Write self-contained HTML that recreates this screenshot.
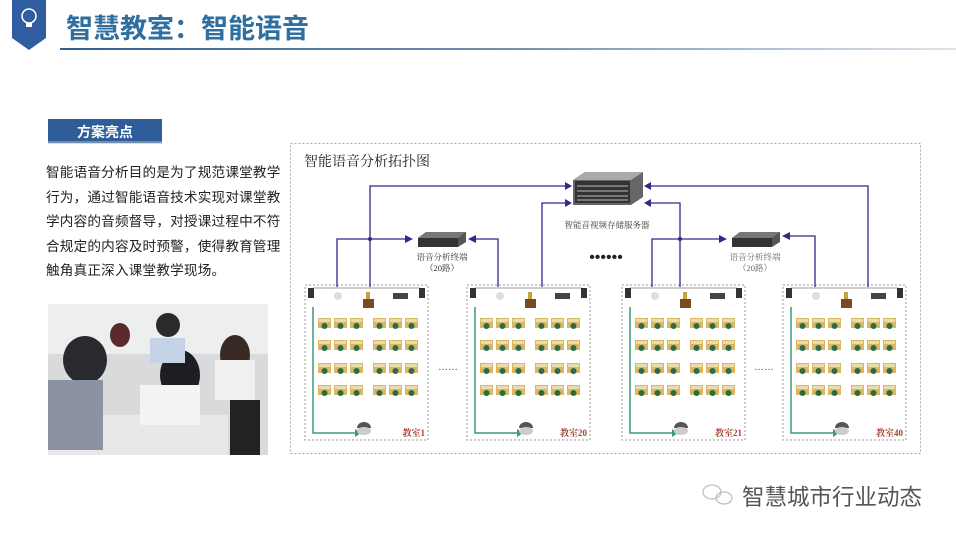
<!DOCTYPE html>
<html><head><meta charset="utf-8"><style>
body{margin:0;width:956px;height:538px;background:#fff;overflow:hidden;position:relative;font-family:"Liberation Sans","Noto Sans CJK SC",sans-serif}
.t{position:absolute;left:46px;top:161px;font-size:13.6px;line-height:24.5px;color:#222;letter-spacing:0.2px}
</style></head><body>
<svg width="956" height="538" style="position:absolute;left:0;top:0">
<defs>
<linearGradient id="hl" x1="0" x2="1"><stop offset="0" stop-color="#2f5f8f"/><stop offset="0.5" stop-color="#7390ad"/><stop offset="1" stop-color="#dde4ec"/></linearGradient>
<g id="desk"><rect x="0" y="0" width="13" height="10" fill="#d8b766"/><rect x="1" y="1" width="11" height="3" fill="#eedca6"/><circle cx="6.5" cy="8" r="3" fill="#2d6b45"/></g>
<g id="room">
<rect x="0" y="0" width="123" height="155" fill="#fff" stroke="#999" stroke-dasharray="2,2"/>
<line x1="8" y1="3" x2="115" y2="3" stroke="#999"/>
<rect x="3" y="3" width="6" height="10" fill="#333"/><rect x="114" y="3" width="6" height="10" fill="#333"/>
<circle cx="33" cy="11" r="4" fill="#ddd"/>
<rect x="58" y="14" width="11" height="9" fill="#7a4a20"/><rect x="61" y="7" width="4" height="7" fill="#c8a040"/>
<rect x="88" y="8" width="15" height="6" fill="#444"/>
<g>
<use href="#desk" x="13" y="33"/><use href="#desk" x="29" y="33"/><use href="#desk" x="45" y="33"/><use href="#desk" x="68" y="33"/><use href="#desk" x="84" y="33"/><use href="#desk" x="100" y="33"/>
<use href="#desk" x="13" y="55"/><use href="#desk" x="29" y="55"/><use href="#desk" x="45" y="55"/><use href="#desk" x="68" y="55"/><use href="#desk" x="84" y="55"/><use href="#desk" x="100" y="55"/>
<use href="#desk" x="13" y="78"/><use href="#desk" x="29" y="78"/><use href="#desk" x="45" y="78"/><use href="#desk" x="68" y="78"/><use href="#desk" x="84" y="78"/><use href="#desk" x="100" y="78"/>
<use href="#desk" x="13" y="100"/><use href="#desk" x="29" y="100"/><use href="#desk" x="45" y="100"/><use href="#desk" x="68" y="100"/><use href="#desk" x="84" y="100"/><use href="#desk" x="100" y="100"/>
</g>
<polyline points="8,22 8,148 50,148" fill="none" stroke="#3a9a7a" stroke-width="1.5"/>
<polygon points="50,144 56,148 50,152" fill="#3a9a7a"/>
<path d="M52,143 a7,6 0 0 1 14,0 z" fill="#555"/><ellipse cx="59" cy="146" rx="7" ry="4" fill="#ccc"/>
</g>
<g id="term"><polygon points="0,6 8,0 48,0 48,10 40,15 0,15" fill="#555"/><rect x="0" y="6" width="40" height="9" fill="#333"/><polygon points="0,6 8,0 48,0 40,6" fill="#777"/></g>
</defs>
<polygon points="12,0 46,0 46,38 29,50 12,38" fill="#2f5da0"/>
<circle cx="29" cy="16" r="7" fill="none" stroke="#fff" stroke-width="1.5"/><rect x="26" y="23" width="6" height="4" fill="#fff"/>
<text x="66" y="38" font-size="27" font-weight="bold" fill="#2f6fa0" font-family="Liberation Sans,Noto Sans CJK SC,sans-serif">智慧教室：智能语音</text>
<rect x="60" y="48" width="896" height="2" fill="url(#hl)"/>
<rect x="48" y="119" width="114" height="24" fill="#2f5d9a"/><rect x="48" y="141" width="114" height="3" fill="#bbb" opacity=".5"/>
<text x="105" y="137" font-size="14" font-weight="bold" fill="#fff" text-anchor="middle" font-family="Liberation Sans,Noto Sans CJK SC,sans-serif">方案亮点</text>
<rect x="48" y="304" width="220" height="151" fill="#d8dadc"/>
<rect x="48" y="304" width="220" height="50" fill="#eceeef"/>
<rect x="48" y="415" width="180" height="40" fill="#e8e8ea"/>
<ellipse cx="85" cy="360" rx="22" ry="24" fill="#2a2a2e"/>
<rect x="48" y="380" width="55" height="70" fill="#8b93a3"/>
<ellipse cx="180" cy="375" rx="20" ry="25" fill="#1e1e22"/>
<rect x="140" y="385" width="60" height="40" fill="#f3f3f3"/>
<ellipse cx="235" cy="355" rx="15" ry="20" fill="#3a2a24"/><rect x="215" y="360" width="40" height="40" fill="#f0f0f0"/>
<ellipse cx="168" cy="325" rx="12" ry="12" fill="#2a2a2a"/><rect x="150" y="338" width="35" height="25" fill="#c5d3e6"/>
<ellipse cx="120" cy="335" rx="10" ry="12" fill="#5a2a2a"/>
<rect x="230" y="400" width="30" height="55" fill="#222"/>
<rect x="290.5" y="143.5" width="630" height="310" fill="none" stroke="#aaa" stroke-dasharray="2,2"/>
<text x="304" y="166" font-size="14" fill="#222" font-family="Liberation Serif,Noto Serif CJK SC,serif">智能语音分析拓扑图</text>
<g>
<polygon points="573,180 585,172 643,172 643,197 631,205 573,205" fill="#666"/>
<polygon points="573,180 585,172 643,172 631,180" fill="#aaa"/>
<rect x="575" y="181" width="55" height="22" fill="#333"/>
<g stroke="#bbb" stroke-width="1"><line x1="577" y1="186" x2="628" y2="186"/><line x1="577" y1="191" x2="628" y2="191"/><line x1="577" y1="196" x2="628" y2="196"/><line x1="577" y1="200" x2="628" y2="200"/></g>
</g>
<text x="607" y="228" font-size="8.5" fill="#333" text-anchor="middle" font-family="Liberation Serif,Noto Serif CJK SC,serif">智能音视频存储服务器</text>
<use href="#term" x="418" y="232"/><use href="#term" x="732" y="232"/>
<text x="442" y="260" font-size="8.5" fill="#333" text-anchor="middle" font-family="Liberation Serif,Noto Serif CJK SC,serif">语音分析终端</text>
<text x="442" y="271" font-size="8.5" fill="#333" text-anchor="middle" font-family="Liberation Serif,Noto Serif CJK SC,serif">（20路）</text>
<text x="755" y="260" font-size="8.5" fill="#666" text-anchor="middle" font-family="Liberation Serif,Noto Serif CJK SC,serif">语音分析终端</text>
<text x="755" y="271" font-size="8.5" fill="#666" text-anchor="middle" font-family="Liberation Serif,Noto Serif CJK SC,serif">（20路）</text>
<text x="606" y="262" font-size="16" fill="#222" text-anchor="middle">••••••</text>
<use href="#room" x="305" y="285"/><use href="#room" x="467" y="285"/><use href="#room" x="622" y="285"/><use href="#room" x="783" y="285"/>
<g font-size="9" fill="#a0402d" font-weight="bold" text-anchor="end" font-family="Liberation Serif,Noto Serif CJK SC,serif">
<text x="425" y="436">教室1</text><text x="587" y="436">教室20</text><text x="742" y="436">教室21</text><text x="903" y="436">教室40</text></g>
<text x="448" y="370" font-size="10" fill="#333" text-anchor="middle">……</text>
<text x="764" y="370" font-size="10" fill="#333" text-anchor="middle">……</text>
<g fill="none" stroke="#2e2a8a" stroke-width="1.3">
<polyline points="370,287 370,186 568,186"/><polyline points="337,287 337,239 410,239"/>
<polyline points="542,287 542,203 568,203"/><polyline points="498,287 498,239 472,239"/>
<polyline points="652,287 652,239 722,239"/><polyline points="680,287 680,203 648,203"/>
<polyline points="868,287 868,186 648,186"/><polyline points="815,287 815,236 786,236"/>
</g>
<g fill="#2e2a8a">
<polygon points="572,186 565,182 565,190"/><polygon points="572,203 565,199 565,207"/>
<polygon points="413,239 405,235 405,243"/><polygon points="468,239 476,235 476,243"/>
<polygon points="727,239 719,235 719,243"/><polygon points="644,203 651,199 651,207"/>
<polygon points="644,186 651,182 651,190"/><polygon points="782,236 790,232 790,240"/>
<circle cx="370" cy="239" r="2"/><circle cx="680" cy="239" r="2"/>
</g>
<g fill="none" stroke="#bbb" stroke-width="1.2"><ellipse cx="712" cy="492" rx="9" ry="7"/><ellipse cx="724" cy="498" rx="8" ry="6"/></g>
<text x="742" y="505" font-size="22.5" fill="#555" font-family="Liberation Sans,Noto Sans CJK SC,sans-serif">智慧城市行业动态</text>
</svg>
<div class="t">智能语音分析目的是为了规范课堂教学<br>行为，通过智能语音技术实现对课堂教<br>学内容的音频督导，对授课过程中不符<br>合规定的内容及时预警，使得教育管理<br>触角真正深入课堂教学现场。</div>
</body></html>
